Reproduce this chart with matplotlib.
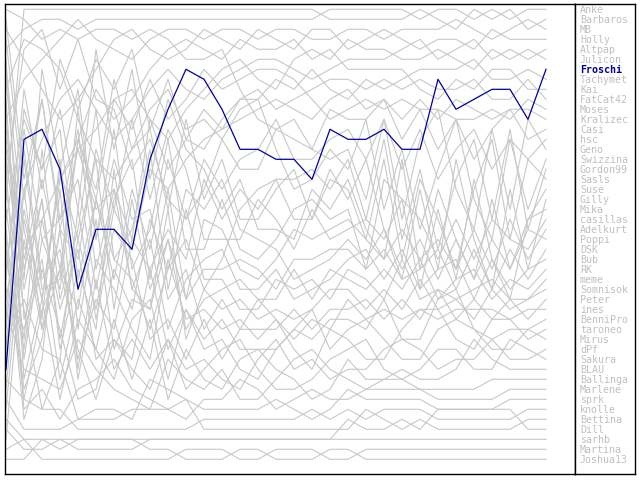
import matplotlib
matplotlib.use("Agg")
import matplotlib.pyplot as plt

# rank of every player after each round (1 = best), final order = legend order
players = [
    "Anke", "Barbaros", "MB", "Holly", "Altpap", "Julicon", "Froschi", "Tachymet",
    "Kai", "FatCat42", "Moses", "Kralizec", "Casi", "hsc", "Geno", "Swizzina",
    "Gordon99", "Sasls", "Suse", "Gilly", "Mika", "casillas", "Adelkurt", "Poppi",
    "DSK", "Bub", "RK", "meme", "Somnisok", "Peter", "ines", "BenniPro",
    "taroneo", "Mirus", "dPf", "Sakura", "BLAU", "Ballinga", "Marlene", "sprk",
    "knolle", "Bettina", "Dill", "sarhb", "Martina", "Joshua13",
]
highlight = "Froschi"

ranks = {
    "Anke": [5,3,2,2,3,2,2,2,2,2,2,2,2,2,2,2,2,2,1,1,1,1,1,2,1,1,2,1,2,1,1],
    "Barbaros": [20,1,1,1,1,1,1,1,1,1,1,1,1,1,1,1,1,1,2,2,2,2,2,1,2,3,1,2,1,3,2],
    "MB": [12,8,6,4,2,4,5,6,4,3,3,4,3,3,4,3,3,4,4,3,3,4,3,3,3,2,3,4,3,2,3],
    "Holly": [3,6,9,12,10,7,4,3,5,6,5,3,4,5,3,4,5,3,3,5,4,3,4,5,4,4,5,3,4,4,4],
    "Altpap": [30,19,14,10,8,11,14,12,9,7,9,10,8,7,6,6,7,8,7,6,6,6,5,4,6,5,4,6,5,6,5],
    "Julicon": [15,25,22,18,15,13,10,9,12,14,11,9,7,6,8,9,6,5,6,4,5,5,6,6,5,6,7,5,6,5,6],
    "Froschi": [37,14,13,17,29,23,23,25,16,11,7,8,11,15,15,16,16,18,13,14,14,13,15,15,8,11,10,9,9,12,7],
    "Tachymet": [9,4,5,7,12,16,18,15,11,9,13,12,14,11,10,8,9,7,9,10,8,9,8,7,7,7,6,8,8,7,8],
    "Kai": [41,22,30,18,14,9,12,10,7,5,4,5,6,4,5,5,4,6,5,7,7,7,7,9,10,8,9,7,7,9,9],
    "FatCat42": [2,18,10,23,15,21,19,24,12,17,14,15,12,10,9,11,10,9,8,8,9,8,9,8,9,9,8,10,10,8,10],
    "Moses": [25,40,31,27,14,20,10,13,8,12,10,7,9,8,7,7,8,10,12,11,10,11,10,11,11,12,12,11,12,10,11],
    "Kralizec": [8,27,20,34,24,31,21,25,17,19,16,14,13,12,11,10,11,12,10,9,11,10,12,10,12,10,11,12,11,11,12],
    "Casi": [18,5,3,9,4,10,11,17,14,20,22,19,14,17,17,13,12,15,11,12,12,10,14,11,15,12,16,13,11,14,13],
    "hsc": [44,24,33,27,31,20,28,19,25,16,22,16,19,16,15,12,16,16,14,13,16,12,17,13,18,15,13,17,14,16,14],
    "Geno": [1,2,4,3,4,3,3,4,3,4,6,6,5,9,12,13,14,15,16,15,20,12,22,14,11,19,23,13,21,12,15],
    "Swizzina": [22,12,17,6,11,6,9,5,13,8,14,11,13,10,10,15,19,18,15,17,12,21,15,23,17,12,20,24,14,21,16],
    "Gordon99": [35,15,28,25,36,30,33,24,27,23,26,18,22,19,21,18,18,17,19,16,22,14,24,17,25,18,14,22,13,23,17],
    "Sasls": [10,36,24,29,14,19,8,15,13,21,12,20,16,22,22,19,17,22,18,19,24,16,26,18,22,27,19,14,24,16,18],
    "Suse": [28,9,19,11,21,5,15,7,18,10,15,17,21,18,23,23,24,19,21,18,23,26,16,27,19,24,28,20,27,22,19],
    "Gilly": [6,32,26,38,30,35,27,31,22,27,24,29,26,21,19,18,22,22,17,20,16,23,28,19,27,16,24,29,19,27,20],
    "Mika": [14,28,7,17,9,24,13,27,23,14,25,25,20,25,26,24,21,20,22,21,27,18,20,29,21,28,18,26,30,22,21],
    "casillas": [39,19,33,23,26,15,21,12,20,13,17,24,24,24,20,22,25,21,24,23,22,24,20,22,26,22,26,22,24,25,22],
    "Adelkurt": [4,20,10,22,18,29,20,16,28,19,30,22,23,27,28,26,23,24,23,22,24,26,23,26,24,27,23,27,22,26,23],
    "Poppi": [32,11,17,13,28,20,26,28,33,27,19,21,18,23,24,25,28,27,26,24,26,23,27,24,28,24,28,24,27,23,24],
    "DSK": [11,38,30,17,24,16,31,20,29,24,30,27,27,26,27,29,26,26,25,25,27,25,28,27,25,29,25,29,25,28,25],
    "Bub": [27,13,24,22,13,27,19,29,24,33,28,26,25,29,29,27,30,29,28,26,25,28,25,29,27,26,30,26,29,27,26],
    "RK": [16,29,20,35,27,33,17,29,31,24,33,30,29,28,30,30,27,30,27,28,29,27,29,26,30,28,27,30,28,29,27],
    "meme": [21,34,15,30,23,11,26,23,15,29,21,28,28,31,31,28,29,28,30,27,28,30,26,30,29,30,29,28,30,30,28],
    "Somnisok": [7,23,32,16,33,22,35,30,31,21,34,29,31,30,32,31,32,31,29,29,31,29,31,28,31,30,32,29,31,30,29],
    "Peter": [33,16,29,28,11,24,16,22,21,30,27,33,30,33,33,33,31,33,31,31,30,32,30,32,29,32,30,32,30,32,30],
    "ines": [24,42,36,19,37,26,29,33,36,26,32,31,33,32,34,32,34,32,33,30,32,31,32,31,32,31,31,31,32,31,31],
    "BenniPro": [13,26,18,27,35,40,34,36,27,35,31,34,32,35,35,35,33,34,32,32,33,30,34,34,30,29,33,34,33,33,32],
    "taroneo": [19,31,41,36,21,32,23,26,34,32,36,32,36,33,30,32,35,37,33,34,36,36,33,31,31,34,35,32,32,34,33],
    "Mirus": [36,21,30,40,32,35,38,32,30,38,31,35,34,37,38,35,33,31,35,33,32,34,36,36,33,32,33,35,35,33,34],
    "dPf": [26,35,22,31,25,36,34,37,39,34,37,36,38,39,36,34,37,36,38,37,37,35,34,35,37,36,36,34,36,36,35],
    "Sakura": [23,39,34,23,38,28,37,34,37,34,39,37,35,34,37,39,39,38,36,35,34,37,38,37,35,35,37,37,34,35,36],
    "BLAU": [29,33,27,33,40,39,32,38,32,40,35,38,39,36,35,37,38,40,39,36,38,38,37,38,38,37,34,36,37,37,37],
    "Ballinga": [31,37,38,39,34,37,39,40,41,36,38,39,37,40,40,38,36,35,37,38,39,39,39,39,39,39,39,38,38,38,38],
    "Marlene": [17,41,39,42,39,38,36,39,40,41,42,40,40,38,39,41,40,39,40,40,39,38,38,39,40,40,40,40,39,39,39],
    "sprk": [34,30,35,36,42,41,41,42,38,39,40,41,41,41,41,40,41,42,41,39,40,40,40,40,41,41,41,41,40,40,40],
    "knolle": [38,40,41,41,43,43,43,43,43,43,43,42,42,42,42,42,42,41,42,41,42,41,41,41,42,42,42,42,42,41,41],
    "Bettina": [40,43,43,43,42,42,42,41,41,41,40,43,43,43,43,43,43,43,43,43,41,42,43,42,43,43,43,43,43,42,42],
    "Dill": [42,44,44,44,44,44,44,44,44,44,44,44,44,44,44,44,44,44,44,42,43,43,42,43,41,41,41,41,41,43,43],
    "sarhb": [43,45,45,44,45,45,45,45,44,44,44,44,44,44,44,44,44,44,44,44,44,44,44,44,44,44,44,44,44,44,44],
    "Martina": [45,44,46,46,46,46,46,46,46,46,45,45,45,46,46,45,45,45,46,46,45,45,45,45,45,45,45,45,45,45,45],
    "Joshua13": [46,46,44,45,44,44,44,44,45,45,46,46,46,45,45,46,46,46,45,45,46,46,46,46,46,46,46,46,46,46,46],
}
rounds = list(range(len(ranks[highlight])))

grey = "#c8c8c8"
blue = "#0000a0"

fig = plt.figure(figsize=(6.4, 4.8), dpi=100)
ax = fig.add_axes([5 / 640, 6 / 480, 570 / 640, 470 / 480])
leg = fig.add_axes([575 / 640, 6 / 480, 60 / 640, 470 / 480])

for name in players:
    if name != highlight:
        ax.plot(rounds, ranks[name], color=grey, lw=0.8, zorder=1)
ax.plot(rounds, ranks[highlight], color=blue, lw=0.9, zorder=3)

ax.set_xlim(-1 / 18, 569 / 18)
ax.set_ylim(47.47, 0.47)

for a in (ax, leg):
    a.set_xticks([])
    a.set_yticks([])
    for s in a.spines.values():
        s.set_linewidth(1)
        s.set_color("black")

leg.set_xlim(0, 60)
leg.set_ylim(47.47, 0.47)
for i, name in enumerate(players):
    hl = name == highlight
    leg.text(5, i + 1.05, name, family="DejaVu Sans Mono", fontsize=7.2,
             color=blue if hl else "#c0c0c0",
             fontweight="bold" if hl else "normal", va="center", ha="left")

fig.savefig("out.png", dpi=100)
